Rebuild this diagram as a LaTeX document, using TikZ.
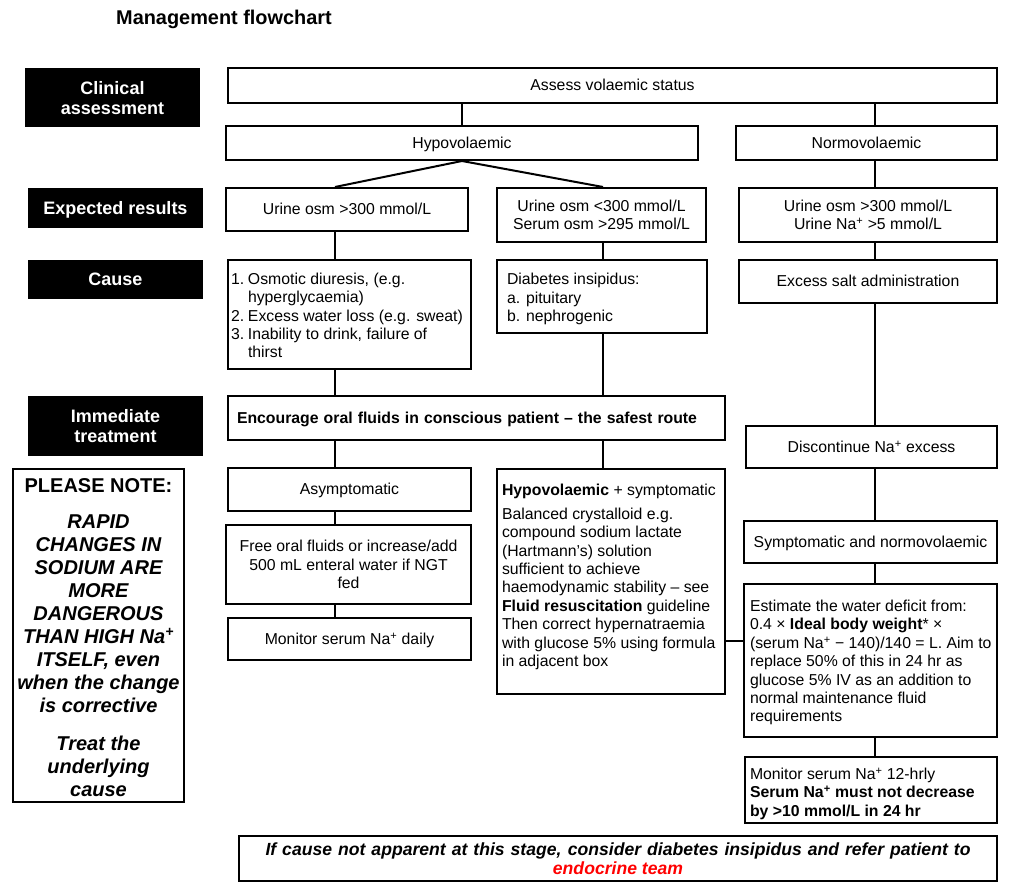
\documentclass[tikz,border=0pt]{standalone}
\usepackage{fontspec}
\setmainfont{Liberation Sans}
\newcommand\lbox[3][2.5pt]{\makebox[#2][l]{\raisebox{-#1}[\height][\depth]{\begin{tabular}{@{}l@{}}#3\end{tabular}}}}
\begin{document}
\begin{tikzpicture}[x=1pt,y=-1pt,
  box/.style={draw=black,line width=2pt,rectangle,inner sep=0pt,font=\fontsize{15.8}{18.4}\selectfont,align=center},
  one/.style={text height=14.3pt,text depth=3.35pt},
  lab/.style={fill=black,text=white,rectangle,inner sep=0pt,font=\fontsize{18}{20.5}\selectfont\bfseries,align=center},
  labone/.style={text height=16.3pt,text depth=3.8pt},
  conn/.style={line width=2pt}]
\useasboundingbox[fill=white] (0,0) rectangle (1026,893);

\coordinate (colL) at (335,0);
\coordinate (colM) at (603,0);
\coordinate (colR) at (875,0);
\coordinate (rowH) at (0,641);

\node[font=\fontsize{19.9}{24}\selectfont\bfseries,anchor=base] (title) at (224,24.5) {Management flowchart};

\node[lab,minimum width=175pt,minimum height=59pt] (l1) at (112.5,98) {Clinical\\assessment};
\node[lab,labone,minimum width=175pt,minimum height=40pt] (l2) at (115.5,208) {Expected results};
\node[lab,labone,minimum width=175pt,minimum height=39pt] (l3) at (115.5,279.5) {Cause};
\node[lab,minimum width=175pt,minimum height=59pt] (l4) at (115.5,426) {Immediate\\treatment};

\node[box,one,minimum width=769pt,minimum height=35pt] (assess) at (612.5,85.5) {Assess volaemic status};
\node[box,one,minimum width=472pt,minimum height=34pt] (hypo) at (462,143) {Hypovolaemic};
\node[box,one,minimum width=261pt,minimum height=34pt] (normo) at (866.5,143) {Normovolaemic};

\node[box,one,minimum width=242pt,minimum height=43pt] (ures1) at (347,209.5) {Urine osm >300 mmol/L};
\node[box,minimum width=209pt,minimum height=54pt] (ures2) at (601.5,215) {Urine osm <300 mmol/L\\Serum osm >295 mmol/L};
\node[box,minimum width=258pt,minimum height=54pt] (ures3) at (868,215) {Urine osm >300 mmol/L\\Urine Na\textsuperscript{+} >5 mmol/L};

\node[box,minimum width=243pt,minimum height=109pt] (cause1) at (349.5,314.5)
  {\makebox[237pt][l]{\raisebox{-3pt}[\height][\depth]{\begin{tabular}{@{}p{17pt}@{}l@{}}1.&Osmotic diuresis, (e.g.\\ &hyperglycaemia)\\2.&Excess water loss (e.g. sweat)\\3.&Inability to drink, failure of\\ &thirst\end{tabular}}}};
\node[box,minimum width=210pt,minimum height=73pt] (cause2) at (602,296.5)
  {\lbox[3pt]{190pt}{Diabetes insipidus:\\a. pituitary\\b. nephrogenic}};
\node[box,one,minimum width=258pt,minimum height=43pt] (cause3) at (868,281.5) {Excess salt administration};

\node[box,one,minimum width=497pt,minimum height=43pt] (oral) at (476.5,418)
  {\makebox[479pt][l]{\makebox[460pt][s]{\bfseries Encourage oral fluids in conscious patient – the safest route}}};
\node[box,one,minimum width=251pt,minimum height=42pt] (discont) at (871.5,447) {Discontinue Na\textsuperscript{+} excess};

\node[box,one,minimum width=243pt,minimum height=43pt] (asym) at (349.5,489.5) {Asymptomatic};
\node[box,minimum width=245pt,minimum height=79pt] (free) at (348.5,564.5) {Free oral fluids or increase/add\\500 mL enteral water if NGT\\fed};
\node[box,one,minimum width=243pt,minimum height=42pt] (mondaily) at (349.5,639) {Monitor serum Na\textsuperscript{+} daily};

\node[box,minimum width=228pt,minimum height=225pt] (hyposym) at (611,581.5)
  {\lbox{218pt}{\textbf{Hypovolaemic} + symptomatic\\[5pt]
   Balanced crystalloid e.g.\\
   compound sodium lactate\\
   (Hartmann’s) solution\\
   sufficient to achieve\\
   haemodynamic stability – see\\
   \textbf{Fluid resuscitation} guideline\\
   Then correct hypernatraemia\\
   with glucose 5\% using formula\\
   in adjacent box\\[13pt]}};

\node[box,one,minimum width=253pt,minimum height=42pt] (symnormo) at (870.5,542) {Symptomatic and normovolaemic};
\node[box,minimum width=253pt,minimum height=153pt] (estimate) at (870.5,660.5)
  {\lbox[2.5pt]{241pt}{Estimate the water deficit from:\\
   0.4 × \textbf{Ideal body weight}* ×\\
   (serum Na\textsuperscript{+} − 140)/140 = L. Aim to\\
   replace 50\% of this in 24 hr as\\
   glucose 5\% IV as an addition to\\
   normal maintenance fluid\\
   requirements}};
\node[box,minimum width=252pt,minimum height=66pt] (mon12) at (871,790)
  {\lbox[4pt]{242pt}{Monitor serum Na\textsuperscript{+} 12-hrly\\
   \textbf{Serum Na\textsuperscript{+} must not decrease}\\
   \textbf{by >10 mmol/L in 24 hr}}};

\node[box,minimum width=171pt,minimum height=333pt,font=\fontsize{20}{23.1}\selectfont\bfseries\itshape] (note) at (98.5,635.5)
  {\raisebox{-4pt}[\height][\depth]{\begin{tabular}{@{}c@{}}{\upshape PLEASE NOTE:}\\[13pt]
   RAPID\\CHANGES IN\\SODIUM ARE\\MORE\\DANGEROUS\\THAN HIGH Na\textsuperscript{+}\\ITSELF, even\\when the change\\is corrective\\[14pt]
   Treat the\\underlying\\cause\end{tabular}}};

\node[box,minimum width=758pt,minimum height=45pt,font=\fontsize{17.6}{19.5}\selectfont\bfseries\itshape] (bottom) at (618,858.5)
  {\makebox[705pt][s]{If cause not apparent at this stage, consider diabetes insipidus and refer patient to}\\\textcolor{red}{endocrine team}};

% connectors
\draw[conn] (assess.south -| hypo.north) -- (hypo.north);
\draw[conn] (assess.south -| colR) -- (normo.north -| colR);
\draw[conn] (hypo.south) -- (ures1.north -| colL);
\draw[conn] (hypo.south) -- (ures2.north -| colM);
\draw[conn] (normo.south -| colR) -- (ures3.north -| colR);
\draw[conn] (ures1.south -| colL) -- (cause1.north -| colL);
\draw[conn] (ures2.south -| colM) -- (cause2.north -| colM);
\draw[conn] (ures3.south -| colR) -- (cause3.north -| colR);
\draw[conn] (cause1.south -| colL) -- (oral.north -| colL);
\draw[conn] (cause2.south -| colM) -- (oral.north -| colM);
\draw[conn] (cause3.south -| colR) -- (discont.north -| colR);
\draw[conn] (oral.south -| colL) -- (asym.north -| colL);
\draw[conn] (oral.south -| colM) -- (hyposym.north -| colM);
\draw[conn] (asym.south -| colL) -- (free.north -| colL);
\draw[conn] (free.south -| colL) -- (mondaily.north -| colL);
\draw[conn] (discont.south -| colR) -- (symnormo.north -| colR);
\draw[conn] (symnormo.south -| colR) -- (estimate.north -| colR);
\draw[conn] (estimate.south -| colR) -- (mon12.north -| colR);
\draw[conn] (hyposym.east |- rowH) -- (estimate.west |- rowH);
\end{tikzpicture}
\end{document}
